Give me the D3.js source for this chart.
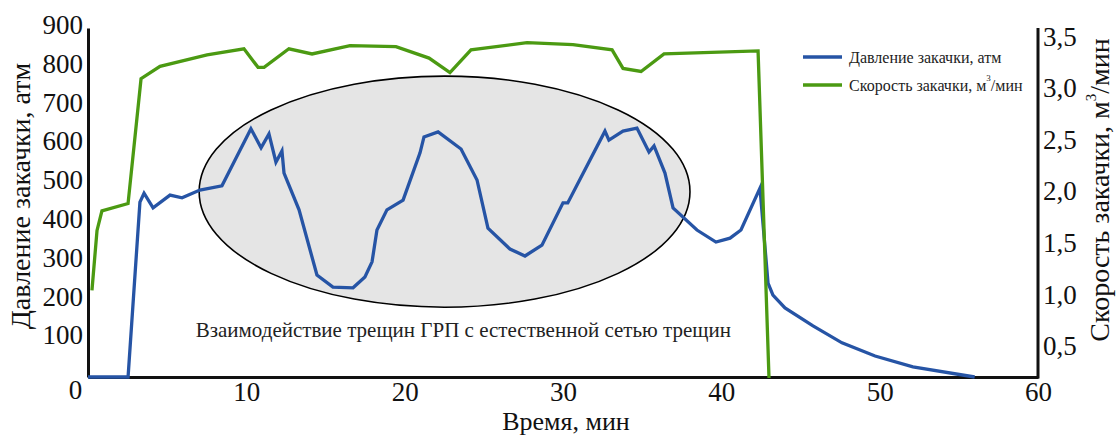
<!DOCTYPE html>
<html><head><meta charset="utf-8">
<script src="https://cdn.jsdelivr.net/npm/d3@7"></script>
<style>
html,body{margin:0;padding:0;background:#fff;}
svg{display:block;font-family:"Liberation Serif","Times New Roman",serif;}
</style></head>
<body><svg id="c" width="1117" height="436"></svg>
<script>
// ---- data ----
const pressureTime = [0,2.53,3.28,3.54,4.11,5.18,5.94,7.07,8.46,10.29,10.93,11.43,11.87,12.25,12.38,13.33,14.46,15.47,16.74,17.49,17.94,18.25,18.88,19.9,20.97,21.22,22.11,23.56,24.57,25.26,26.65,27.6,28.67,30.0,30.3,32.65,32.9,33.79,34.67,35.43,35.75,36.44,36.95,38.46,39.66,40.55,41.24,42.44,42.95,43.26,44.02,45.79,47.62,49.71,52.1,56.0];
const pressure     = [0,0,451,474,436,469,462,482,493,640,591,627,554,583,526,431,263,232,230,258,297,379,431,456,578,619,632,588,508,384,330,312,340,449,449,634,611,634,642,580,596,526,436,379,348,358,379,487,242,211,178,132,88,54,26,0];
const rateTime = [0.25,0.57,0.88,2.53,3.35,4.55,7.52,9.85,10.74,11.12,12.69,14.15,16.55,19.45,21.54,22.86,24.19,27.73,30.63,33.1,33.79,34.93,36.38,42.32,43.01];
const rate     = [1.04,1.62,1.81,1.88,3.09,3.21,3.32,3.38,3.2,3.2,3.38,3.33,3.41,3.4,3.29,3.15,3.37,3.44,3.42,3.37,3.19,3.16,3.33,3.36,0.19];
const xTicks = [0,10,20,30,40,50,60];
const leftTicks = [100,200,300,400,500,600,700,800,900];
const rightTicks = [0.5,1.0,1.5,2.0,2.5,3.0,3.5];
const seriesNames = ["Давление закачки, атм","Скорость закачки, м"];
const xTitle = "Время, мин";
const leftTitle = "Давление закачки, атм";
const rightTitle = "Скорость закачки, м";
const annotation = "Взаимодействие трещин ГРП с естественной сетью трещин";
// ellipse annotation in data units: centre (min, atm), radii (min, atm)
const ellipseC = [22.52, 478];
const ellipseR = [15.5, 298];
const annotPos = [6.8, 121];

const BLUE = "#2654a5", GREEN = "#4b9a12";
const svg = d3.select("#c");
const x = d3.scaleLinear().domain([0,60]).range([88,1038]);
const yL = d3.scaleLinear().domain([0,900]).range([377,28]);
const yR = d3.scaleLinear().domain([0,3.5]).range([397.6,36.4]);

// ellipse
svg.append("ellipse")
  .attr("cx", x(ellipseC[0])).attr("cy", yL(ellipseC[1]))
  .attr("rx", x(ellipseC[0]+ellipseR[0]) - x(ellipseC[0]))
  .attr("ry", yL(ellipseC[1]) - yL(ellipseC[1]+ellipseR[1]))
  .attr("fill","#e5e5e5").attr("stroke","#000").attr("stroke-width",1.6);

svg.append("text").attr("x", x(annotPos[0])).attr("y", yL(annotPos[1]))
  .attr("dominant-baseline","central").attr("font-size",21).attr("fill","#222")
  .text(annotation);

// axes
const gx = svg.append("g").attr("transform",`translate(0,${yL(0)})`)
  .call(d3.axisBottom(x).tickValues(xTicks).tickSize(0).tickFormat(d3.format("d")));
gx.select(".domain").attr("stroke","#111").attr("stroke-width",3);
gx.selectAll("text").attr("font-size",27).attr("font-family","Liberation Serif")
  .attr("fill","#111").attr("y",24).attr("dy",0)
  .attr("dx", d => d===0 ? -13 : 0)
  .attr("transform", d => d===0 ? "translate(0,-2)" : null);

const gl = svg.append("g").attr("transform",`translate(${x(0)},0)`)
  .call(d3.axisLeft(yL).tickValues(leftTicks).tickSize(0).tickPadding(5));
gl.select(".domain").attr("stroke","#111").attr("stroke-width",3);
gl.selectAll("text").attr("font-size",27).attr("font-family","Liberation Serif")
  .attr("fill","#111").attr("dy","0.32em").attr("transform","translate(0,-3)");

const gr = svg.append("g").attr("transform",`translate(${x(60)},0)`)
  .call(d3.axisRight(yR).tickValues(rightTicks).tickSize(0).tickPadding(5)
    .tickFormat(d => d3.format(".1f")(d).replace(".",",")));
gr.select(".domain").remove();
gr.selectAll("text").attr("font-size",27).attr("font-family","Liberation Serif")
  .attr("fill","#111").attr("dy","0.32em");
svg.append("line").attr("x1",x(60)).attr("x2",x(60)).attr("y1",yL(0)+1.5).attr("y2",yL(900))
  .attr("stroke","#111").attr("stroke-width",3);

// titles
svg.append("text").attr("x",566).attr("y",430).attr("text-anchor","middle")
  .attr("font-size",26).attr("fill","#111").text(xTitle);
svg.append("text").attr("transform","translate(30,196) rotate(-90)").attr("text-anchor","middle")
  .attr("font-size",28).attr("fill","#111").text(leftTitle);
const rt = svg.append("text").attr("transform","translate(1109,190) rotate(-90)").attr("text-anchor","middle")
  .attr("font-size",28).attr("fill","#111");
rt.append("tspan").text(rightTitle);
rt.append("tspan").attr("font-size",15).attr("dy",-13).text("3");
rt.append("tspan").attr("dy",13).text("/мин");

// lines
const lineP = d3.line().x((d,i)=>x(pressureTime[i])).y(d=>yL(d));
const lineR = d3.line().x((d,i)=>x(rateTime[i])).y(d=>yR(d));
svg.append("path").datum(pressure).attr("d",lineP).attr("fill","none")
  .attr("stroke",BLUE).attr("stroke-width",3.3);
svg.append("path").datum(rate).attr("d",lineR).attr("fill","none")
  .attr("stroke",GREEN).attr("stroke-width",3.3);

// legend
const lg = svg.append("g");
[[BLUE,57],[GREEN,85]].forEach(([c,yy],i)=>{
  lg.append("line").attr("x1",803).attr("x2",842).attr("y1",yy).attr("y2",yy)
    .attr("stroke",c).attr("stroke-width",3.3);
  const t = lg.append("text").attr("x",849).attr("y",yy).attr("dominant-baseline","central")
    .attr("font-size",16).attr("fill","#222");
  t.append("tspan").text(seriesNames[i]);
  if(i===1){
    t.append("tspan").attr("font-size",9).attr("dy",-7).text("3");
    t.append("tspan").attr("dy",7).text("/мин");
  }
});
</script></body></html>
